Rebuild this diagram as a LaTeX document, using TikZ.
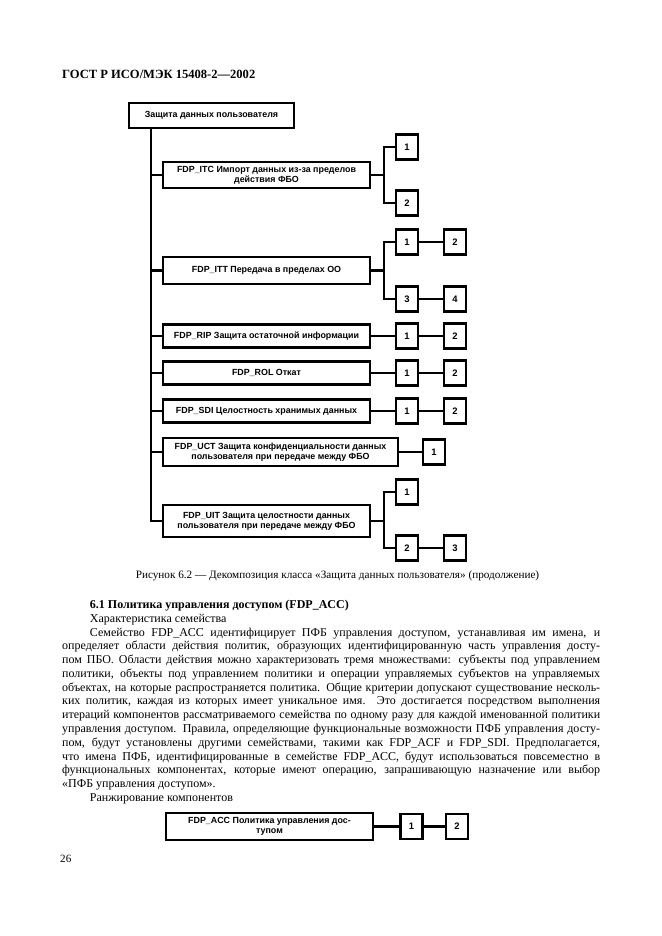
\documentclass[tikz,border=0pt]{standalone}
\usepackage{fontspec}
\setmainfont{Liberation Serif}
\setsansfont{Liberation Sans}
\usetikzlibrary{positioning,
				calc}

\newlength\pxu
\setlength\pxu{0.9006pt}
\newlength\bodywd
\setlength\bodywd{484.5pt}
\newcommand\jline[1]{\makebox[\bodywd][s]{#1}}

\tikzset{
	famnode/.style={draw, line width=2.2pt, inner sep=0pt, minimum width=207\pxu, align=center,
		font=\sffamily\bfseries\fontsize{8}{9}\selectfont},
	compnode/.style={draw, line width=2.2pt, inner sep=0pt, minimum width=22\pxu, minimum height=25\pxu,
		font=\sffamily\bfseries\fontsize{8.5}{9}\selectfont},
	link/.style={line width=2pt}
}

\begin{document}
\begin{tikzpicture}[x=\pxu,y=-\pxu]
		\useasboundingbox (0,0) rectangle (661,936);

		% header
		\node[anchor=base west, inner sep=0pt, font=\bfseries\fontsize{11.3}{13}\selectfont] (head) at (62,78) {ГОСТ Р ИСО/МЭК 15408-2—2002};

		% class box and families
		\node[famnode, minimum width=165\pxu, minimum height=25\pxu] (top) at (211.5,115.5) {Защита данных пользователя};
		\node[famnode, minimum height=26\pxu] (itc) at (266.5,175) {FDP\_ITC Импорт данных из-за пределов\\действия ФБО};
		\node[famnode, minimum height=27\pxu] (itt) at (266.5,270.5) {FDP\_ITT Передача в пределах ОО};
		\node[famnode, minimum height=23\pxu] (rip) at (266.5,336) {FDP\_RIP Защита остаточной информации};
		\node[famnode, minimum height=23\pxu] (rol) at (266.5,373) {FDP\_ROL Откат};
		\node[famnode, minimum height=23\pxu] (sdi) at (266.5,411) {FDP\_SDI Целостность хранимых данных};
		\node[famnode, minimum width=235\pxu, minimum height=28\pxu] (uct) at (280.5,452) {FDP\_UCT Защита конфиденциальности данных\\пользователя при передаче между ФБО};
		\node[famnode, minimum height=32\pxu] (uit) at (266.5,521) {FDP\_UIT Защита целостности данных\\пользователя при передаче между ФБО};

		% components
		\node[compnode] (itc1) at (407,147) {1};
		\node[compnode] (itc2) at (407,203) {2};
		\node[compnode] (itt1) at (407,242) {1};
		\node[compnode] (itt2) at (455,242) {2};
		\node[compnode] (itt3) at (407,299) {3};
		\node[compnode] (itt4) at (455,299) {4};
		\node[compnode] (rip1) at (407,336) {1};
		\node[compnode] (rip2) at (455,336) {2};
		\node[compnode] (rol1) at (407,373) {1};
		\node[compnode] (rol2) at (455,373) {2};
		\node[compnode] (sdi1) at (407,411) {1};
		\node[compnode] (sdi2) at (455,411) {2};
		\node[compnode] (uct1) at (434,452) {1};
		\node[compnode] (uit1) at (407,492) {1};
		\node[compnode] (uit2) at (407,548) {2};
		\node[compnode] (uit3) at (455,548) {3};

		% trunk
		\coordinate (trunk) at (151,0);
		\draw[link, line width=2.6pt] (trunk |- top.south) |- (uit.west);
		\foreach \f in {itc,itt,rip,rol,sdi,uct}
			\draw[link] (trunk |- \f.west) -- (\f.west);

		% forks
		\foreach \f in {itc,itt,uit}{
			\draw[link] (\f.east) -- ++(13,0) coordinate (\f fork);
		}
		\draw[link] (itc1.west) -| (itcfork) |- (itc2.west);
		\draw[link] (itt1.west) -| (ittfork) |- (itt3.west);
		\draw[link] (uit1.west) -| (uitfork) |- (uit2.west);

		% chains
		\draw[link] (itt1) -- (itt2);
		\draw[link] (itt3) -- (itt4);
		\draw[link] (rip) -- (rip1) -- (rip2);
		\draw[link] (rol) -- (rol1) -- (rol2);
		\draw[link] (sdi) -- (sdi1) -- (sdi2);
		\draw[link] (uct) -- (uct1);
		\draw[link] (uit2) -- (uit3);

		\node[anchor=base, inner sep=0pt, font=\fontsize{10.1}{12}\selectfont] (cap) at (337.5,578) {Рисунок 6.2 — Декомпозиция класса «Защита данных пользователя» (продолжение)};

		% text of 6.1
		\node[anchor=north west, inner sep=0pt, align=left, font=\fontsize{10.8}{12.4}\selectfont] (body) at (62,600) {%
			\hspace*{25pt}\textbf{6.1 Политика управления доступом (FDP\_ACC)}\\
			\hspace*{25pt}Характеристика семейства\\
			\jline{\hspace*{25pt}Семейство FDP\_ACC идентифицирует ПФБ управления доступом, устанавливая им имена, и}\\
			\jline{определяет области действия политик, образующих идентифицированную часть управления досту-}\\
			\jline{пом ПБО. Области действия можно характеризовать тремя множествами: субъекты под управлением}\\
			\jline{политики, объекты под управлением политики и операции управляемых субъектов на управляемых}\\
			\jline{объектах, на которые распространяется политика. Общие критерии допускают существование несколь-}\\
			\jline{ких политик, каждая из которых имеет уникальное имя. Это достигается посредством выполнения}\\
			\jline{итераций компонентов рассматриваемого семейства по одному разу для каждой именованной политики}\\
			\jline{управления доступом. Правила, определяющие функциональные возможности ПФБ управления досту-}\\
			\jline{пом, будут установлены другими семействами, такими как FDP\_ACF и FDP\_SDI. Предполагается,}\\
			\jline{что имена ПФБ, идентифицированные в семействе FDP\_ACC, будут использоваться повсеместно в}\\
			\jline{функциональных компонентах, которые имеют операцию, запрашивающую назначение или выбор}\\
			«ПФБ управления доступом».\\
			\hspace*{25pt}Ранжирование компонентов};

		% ranking of FDP_ACC
		\node[famnode, minimum height=27\pxu] (acc) at (269.5,826.5) {FDP\_ACC Политика управления дос-\\тупом};
		\node[compnode] (acc1) at (411.5,826.5) {1};
		\node[compnode] (acc2) at (457,826.5) {2};
		\draw[link] (acc) -- (acc1) -- (acc2);

		\node[anchor=base west, inner sep=0pt, font=\fontsize{10}{12}\selectfont] (page) at (60,862) {26};
\end{tikzpicture}
\end{document}
